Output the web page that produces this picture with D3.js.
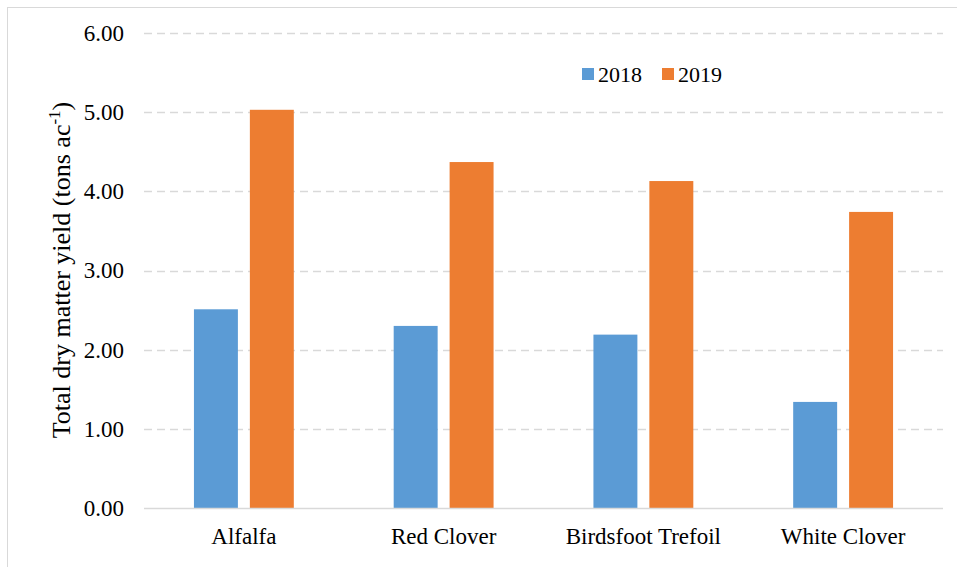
<!DOCTYPE html>
<html><head><meta charset="utf-8">
<script src="https://cdn.jsdelivr.net/npm/d3@7"></script>
<style>body{margin:0;background:#fff}svg{display:block}svg text{font-family:"Liberation Serif","Times New Roman","DejaVu Serif",serif !important}</style>
</head><body>
<svg id="c" width="957" height="567"></svg>
<script>
const categories = ["Alfalfa", "Red Clover", "Birdsfoot Trefoil", "White Clover"];
const seriesNames = ["2018", "2019"];
const values2018 = [2.51, 2.30, 2.19, 1.34];
const values2019 = [5.03, 4.37, 4.13, 3.74];
const yTicks = [0, 1, 2, 3, 4, 5, 6];
const colors = ["#5b9bd5", "#ed7d31"];

(function () {
const svg = d3.select("#c");
svg.append("rect").attr("x", 7.5).attr("y", 7.5).attr("width", 960).attr("height", 570)
  .attr("fill", "none").attr("stroke", "#d9d9d9").attr("stroke-width", 1);

const pLeft = 144, pRight = 943, pTop = 33, pBottom = 508;
const x = d3.scaleBand().domain(categories).range([pLeft, pRight]);
const xs = d3.scaleBand().domain(seriesNames).range([0, x.bandwidth()]).paddingInner(0.214).paddingOuter(0.893);
const y = d3.scaleLinear().domain([0, 6]).range([pBottom, pTop]);

// gridlines
svg.append("g").selectAll("line").data(yTicks.filter(d => d > 0)).join("line")
  .attr("x1", pLeft).attr("x2", pRight)
  .attr("y1", d => Math.round(y(d)) + 0.5).attr("y2", d => Math.round(y(d)) + 0.5)
  .attr("stroke", "#d9d9d9").attr("stroke-width", 1.5).attr("stroke-dasharray", "8,5");

// y axis labels
const yAxis = d3.axisLeft(y).tickValues(yTicks).tickFormat(d3.format(".2f")).tickSize(0).tickPadding(0);
const ya = svg.append("g").attr("transform", `translate(124,0)`).call(yAxis);
ya.select(".domain").remove();
ya.attr("font-family", null).attr("font-size", null);
ya.selectAll("text").attr("font-size", 23).attr("fill", "#000");

// bars
const data = categories.map((c, i) => ({c, v: [values2018[i], values2019[i]]}));
const g = svg.append("g");
data.forEach(d => {
  seriesNames.forEach((s, j) => {
    g.append("rect")
      .attr("x", x(d.c) + xs(s)).attr("width", xs.bandwidth())
      .attr("y", y(d.v[j])).attr("height", y(0) - y(d.v[j]))
      .attr("fill", colors[j]);
  });
});

// x axis baseline
svg.append("line").attr("x1", pLeft).attr("x2", pRight).attr("y1", pBottom + 0.5).attr("y2", pBottom + 0.5)
  .attr("stroke", "#d9d9d9").attr("stroke-width", 1.5);

const xAxis = d3.axisBottom(x).tickSize(0).tickPadding(0);
const xa = svg.append("g").attr("transform", `translate(0,${pBottom + 36})`).call(xAxis);
xa.select(".domain").remove();
xa.attr("font-family", null).attr("font-size", null);
xa.selectAll("text").attr("font-size", 23).attr("fill", "#000").attr("dy", 0);

// y title
const yt = svg.append("text").attr("transform", `translate(70,270) rotate(-90)`)
  .attr("text-anchor", "middle").attr("font-size", 26).attr("fill", "#000");
yt.append("tspan").text("Total dry matter yield (tons ac");
yt.append("tspan").text("-1").attr("font-size", 17).attr("dy", -10);
yt.append("tspan").text(")").attr("dy", 10);

// legend
const legX = [582, 662];
seriesNames.forEach((s, j) => {
  svg.append("rect").attr("x", legX[j]).attr("y", 68).attr("width", 12).attr("height", 12).attr("fill", colors[j]);
  svg.append("text").attr("x", legX[j] + 16).attr("y", 82).attr("font-size", 22).attr("fill", "#000").text(s);
});
})();
</script>
</body></html>
